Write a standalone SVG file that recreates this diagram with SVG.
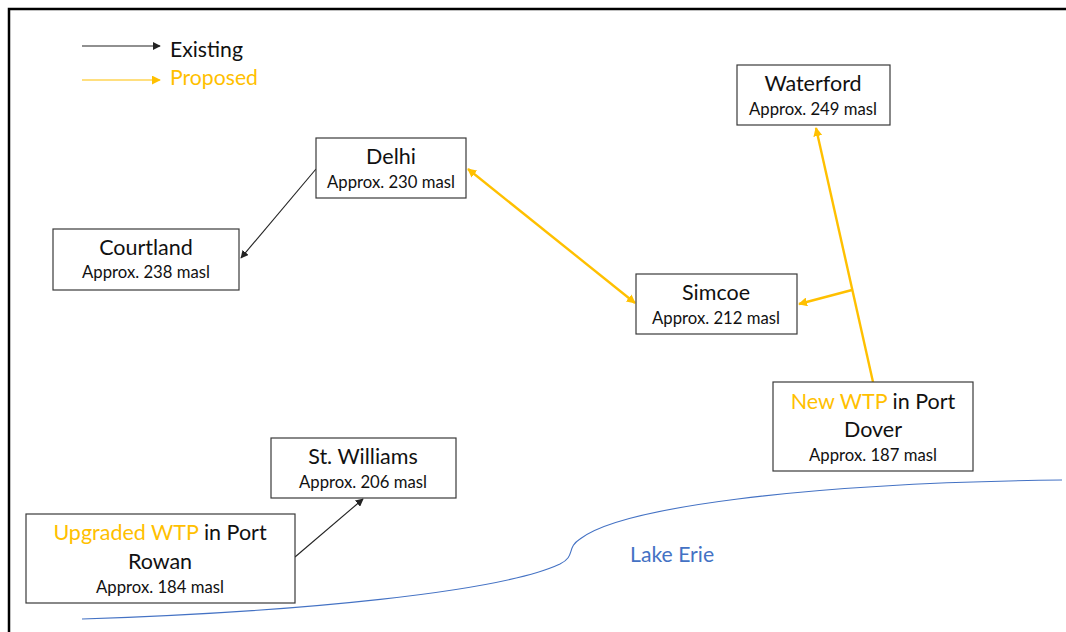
<svg xmlns="http://www.w3.org/2000/svg" width="1066" height="632" viewBox="0 0 1066 632">
<style>
.box{fill:#fff;stroke:#3a3a3a;stroke-width:1.2}
.t{font-family:Lato,"Liberation Sans",sans-serif;font-size:21.5px;fill:#111;text-anchor:middle}
.s{font-family:Lato,"Liberation Sans",sans-serif;font-size:16.7px;fill:#111;text-anchor:middle}
.y{fill:#FFC000}
.ex{stroke:#222;stroke-width:1.1;fill:none}
.pr{stroke:#FFC000;stroke-width:2.4;fill:none}
</style>
<defs>
<marker id="ab" viewBox="0 0 10 10" refX="9" refY="5" markerWidth="8" markerHeight="8" markerUnits="userSpaceOnUse" orient="auto-start-reverse"><path d="M0,0 L10,5 L0,10 z" fill="#222"/></marker>
<marker id="ay" viewBox="0 0 10 10" refX="9" refY="5" markerWidth="9" markerHeight="9" markerUnits="userSpaceOnUse" orient="auto-start-reverse"><path d="M0,0 L10,5 L0,10 z" fill="#FFC000"/></marker>
</defs>
<rect width="1066" height="632" fill="#fff"/>
<path d="M9,632 V9 H1066" fill="none" stroke="#000" stroke-width="2.5"/>
<g id="legend">
<line x1="82" y1="46" x2="160" y2="46" class="ex" marker-end="url(#ab)"/>
<text x="170" y="57" font-family="Lato,'Liberation Sans',sans-serif" font-size="21.2" fill="#111">Existing</text>
<line x1="82" y1="80" x2="160" y2="80" stroke="#FFC000" stroke-width="1.2" marker-end="url(#ay)"/>
<text x="170" y="85" font-family="Lato,'Liberation Sans',sans-serif" font-size="21.2" fill="#FFC000">Proposed</text>
</g>
<g id="lake">
<path d="M82,619 C300,612 500,592 560,564 C576,556 566,548 580,539 C620,508 800,483 1062,480" fill="none" stroke="#4472C4" stroke-width="1.1"/>
<text x="630" y="562" font-family="Lato,'Liberation Sans',sans-serif" font-size="21.2" fill="#4472C4">Lake Erie</text>
</g>
<g id="connectors">
<line x1="316" y1="169" x2="241" y2="258" class="ex" marker-end="url(#ab)"/>
<line x1="295" y1="557" x2="363" y2="499" class="ex" marker-end="url(#ab)"/>
<line x1="468" y1="169" x2="635" y2="303" class="pr" marker-start="url(#ay)" marker-end="url(#ay)"/>
<line x1="873" y1="382" x2="816" y2="128" class="pr" marker-end="url(#ay)"/>
<line x1="852" y1="290" x2="799" y2="304" class="pr" marker-end="url(#ay)"/>
</g>
<g id="waterford">
<rect x="737" y="65" width="153" height="60" class="box"/>
<text x="813" y="91" class="t">Waterford</text>
<text x="813" y="115" class="s">Approx. 249 masl</text>
</g>
<g id="delhi">
<rect x="316" y="138" width="150" height="60" class="box"/>
<text x="391" y="164" class="t">Delhi</text>
<text x="391" y="188" class="s">Approx. 230 masl</text>
</g>
<g id="courtland">
<rect x="53" y="229" width="186" height="61" class="box"/>
<text x="146" y="255" class="t">Courtland</text>
<text x="146" y="278" class="s">Approx. 238 masl</text>
</g>
<g id="simcoe">
<rect x="636" y="274" width="161" height="60" class="box"/>
<text x="716" y="300" class="t">Simcoe</text>
<text x="716" y="324" class="s">Approx. 212 masl</text>
</g>
<g id="portdover">
<rect x="773" y="382" width="200" height="89" class="box"/>
<text x="873" y="409" class="t"><tspan class="y">New WTP</tspan> in Port</text>
<text x="873" y="437" class="t">Dover</text>
<text x="873" y="461" class="s">Approx. 187 masl</text>
</g>
<g id="stwilliams">
<rect x="271" y="438" width="185" height="60" class="box"/>
<text x="363" y="464" class="t">St. Williams</text>
<text x="363" y="488" class="s">Approx. 206 masl</text>
</g>
<g id="portrowan">
<rect x="26" y="514" width="269" height="89" class="box"/>
<text x="160" y="540" class="t"><tspan class="y">Upgraded WTP</tspan> in Port</text>
<text x="160" y="569" class="t">Rowan</text>
<text x="160" y="593" class="s">Approx. 184 masl</text>
</g>
</svg>
